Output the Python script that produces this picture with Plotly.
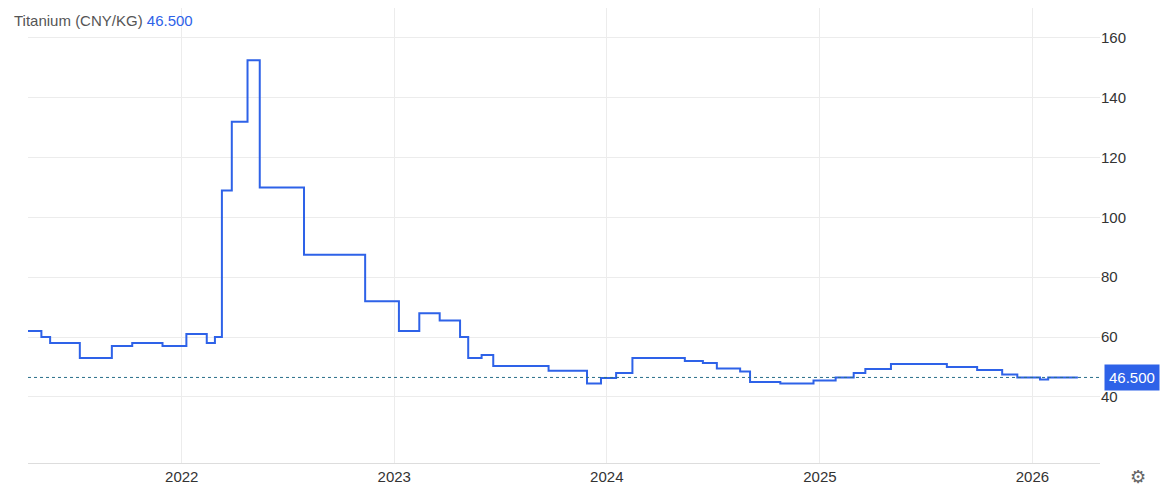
import plotly.graph_objects as go

dates = ["2021-04-01","2021-05-05","2021-05-20","2021-07-10","2021-09-03","2021-10-08","2021-11-29",
         "2022-01-09","2022-02-13","2022-02-27","2022-03-11","2022-03-28","2022-04-24","2022-05-15",
         "2022-07-30","2022-11-12","2023-01-09","2023-02-13","2023-03-20","2023-04-24","2023-05-08",
         "2023-05-31","2023-06-20","2023-09-23","2023-11-28","2023-12-22","2024-01-17","2024-02-14",
         "2024-05-14","2024-06-14","2024-07-08","2024-08-17","2024-09-03","2024-10-25","2024-12-21",
         "2025-01-28","2025-02-28","2025-03-20","2025-05-03","2025-08-07","2025-09-28","2025-11-10",
         "2025-12-06","2026-01-14","2026-01-28","2026-03-20"]
values = [62,60,58,53,57,58,57,61,58,60,109,132,152.5,110,87.5,72,62,68,65.5,60,53,54,50.3,48.7,
          44.5,46.3,48,53,52,51.3,49.5,48.5,45,44.5,45.5,46.5,48,49.3,51,50,49,47.5,46.5,45.8,46.5,46.5]
last_value = 46.5
x_range = ["2021-04-12", "2026-04-27"]
y_ticks = [40, 60, 80, 100, 120, 140, 160]

blue = "#2e62e8"
fig = go.Figure()
fig.add_trace(go.Scatter(x=dates, y=values, mode="lines", line=dict(color=blue, width=2, shape="hv"),
                         hoverinfo="skip", cliponaxis=True))
fig.add_hline(y=last_value, line=dict(color="#2a6f8a", width=1, dash="dot"))
fig.add_annotation(x=1, xref="paper", y=last_value, yref="y", text="46.500", showarrow=False,
                   xanchor="left", xshift=4, bgcolor=blue, font=dict(color="white", size=15, family="Arial"),
                   borderpad=4)
fig.add_annotation(x=0, xref="paper", y=1, yref="paper", yanchor="top", xanchor="left", showarrow=False,
                   text="<span style='color:#555'>Titanium (CNY/KG)</span> <span style='color:#2e62e8'>46.500</span>",
                   font=dict(size=15, family="Arial"), yshift=-2, xshift=-16)
fig.add_annotation(x=1, xref="paper", y=0, yref="paper", text="⚙", showarrow=False, xanchor="left",
                   yanchor="top", xshift=28, yshift=-2, font=dict(size=18, color="#666"))
fig.update_layout(
    width=1173, height=487, margin=dict(l=20, r=81, t=0, b=32),
    paper_bgcolor="white", plot_bgcolor="white", showlegend=False,
    font=dict(family="Arial", size=15, color="#333"),
    xaxis=dict(range=x_range, showgrid=True, gridcolor="#ececec", dtick="M12", tickformat="%Y",
               ticks="", showline=True, linecolor="#ddd", zeroline=False),
    yaxis=dict(side="right", range=[17.9, 170], tickvals=y_ticks, showgrid=True, gridcolor="#ececec",
               zeroline=False, ticks=""),
)
fig.write_html("out.html")
